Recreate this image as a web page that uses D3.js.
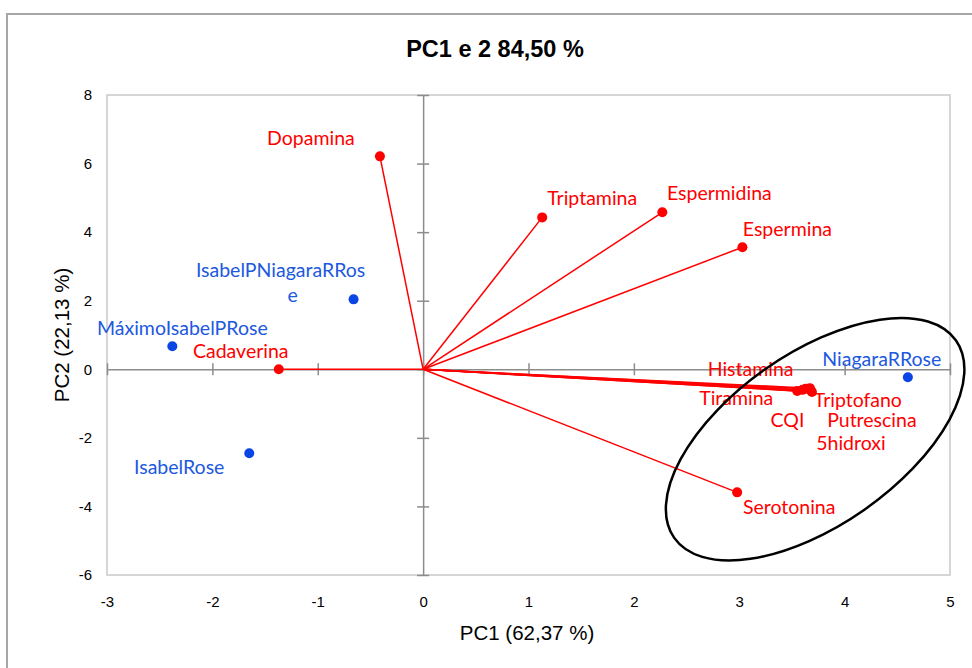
<!DOCTYPE html>
<html>
<head>
<meta charset="utf-8">
<script src="https://cdn.jsdelivr.net/npm/d3@7/dist/d3.min.js"></script>
<style>
  html, body { margin: 0; padding: 0; background: #fff; }
  svg { display: block; }
</style>
</head>
<body>
<svg id="chart" width="972" height="668"></svg>
<script>
// ---- data ----
const title = "PC1 e 2 84,50 %";
const xTitle = "PC1 (62,37 %)";
const yTitle = "PC2 (22,13 %)";
const xTicks = [-3, -2, -1, 0, 1, 2, 3, 4, 5];
const yTicks = [-6, -4, -2, 0, 2, 4, 6, 8];

// variables (loadings), drawn as vectors from origin
const varNames = ["Dopamina", "Triptamina", "Espermidina", "Espermina", "Cadaverina", "Serotonina",
                  "Histamina", "Tiramina", "CQI", "Triptofano", "Putrescina", "5hidroxi"];
const varPC1 = [-0.41, 1.13, 2.27, 3.03, -1.37, 2.98, 3.63, 3.55, 3.60, 3.67, 3.68, 3.69];
const varPC2 = [6.21, 4.43, 4.58, 3.56, 0.00, -3.59, -0.57, -0.63, -0.60, -0.55, -0.62, -0.66];

// observations (scores)
const obsNames = ["IsabelPNiagaraRRose", "MáximoIsabelPRose", "IsabelRose", "NiagaraRRose"];
const obsPC1 = [-0.66, -2.38, -1.65, 4.60];
const obsPC2 = [2.04, 0.67, -2.45, -0.23];

// ---- layout ----
const svg = d3.select("#chart");
const plot = { left: 107, right: 950, top: 95, bottom: 575 };

const x = d3.scaleLinear().domain([-3, 5]).range([plot.left, plot.right]);
const y = d3.scaleLinear().domain([-6, 8]).range([plot.bottom, plot.top]);

const RED = "#ff0000", BLUE = "#0a46e6", BLUE_TXT = "#2058e0";
const labelFont = "Lato, 'Open Sans', sans-serif";
const axisFont = "'Liberation Sans', Arial, sans-serif";
const labelSize = 19.5;

// label offsets (px, relative to each point) – layout only
const varLabelOffset = {
  "Dopamina": [-69, -19], "Triptamina": [50, -20], "Espermidina": [57, -20], "Espermina": [45, -19],
  "Cadaverina": [-38, -19], "Serotonina": [52, 14], "Histamina": [-55, -20], "Tiramina": [-61, 7],
  "CQI": [-15, 30], "Triptofano": [48, 11], "Putrescina": [61, 29], "5hidroxi": [39, 51]
};
const obsLabelOffset = {
  "IsabelPNiagaraRRose": [[-73, -30, "IsabelPNiagaraRRos"], [-61, -5, "e"]],
  "MáximoIsabelPRose": [[10, -19, "MáximoIsabelPRose"]],
  "IsabelRose": [[-70, 13, "IsabelRose"]],
  "NiagaraRRose": [[-26, -19, "NiagaraRRose"]]
};

// outer chart border
svg.append("rect").attr("x", 7).attr("y", 14).attr("width", 1000).attr("height", 700)
  .attr("fill", "none").attr("stroke", "#a6a6a6").attr("stroke-width", 2);

// plot area border
svg.append("rect").attr("x", plot.left).attr("y", plot.top)
  .attr("width", plot.right - plot.left).attr("height", plot.bottom - plot.top)
  .attr("fill", "none").attr("stroke", "#c9c9c9").attr("stroke-width", 1.5);

// zero axes with cross ticks
const axisColor = "#8c8c8c";
const yAxisG = svg.append("g").attr("transform", `translate(${x(0)},0)`);
yAxisG.call(d3.axisLeft(y).tickValues(yTicks).tickSize(0).tickFormat(""));
yAxisG.select(".domain").attr("stroke", axisColor).attr("stroke-width", 1.5);
yAxisG.selectAll(".tick").append("line").attr("x1", -6).attr("x2", 6)
  .attr("stroke", axisColor).attr("stroke-width", 1.5);

const xAxisG = svg.append("g").attr("transform", `translate(0,${y(0)})`);
xAxisG.call(d3.axisBottom(x).tickValues(xTicks).tickSize(0).tickFormat(""));
xAxisG.select(".domain").attr("stroke", axisColor).attr("stroke-width", 1.5);
xAxisG.selectAll(".tick").append("line").attr("y1", -6).attr("y2", 6)
  .attr("stroke", axisColor).attr("stroke-width", 1.5);

// tick labels at plot edges (plain hyphen minus as in reference)
const fmt = d => String(d);
const yLab = svg.append("g").attr("transform", `translate(${plot.left - 15},0)`)
  .call(d3.axisLeft(y).tickValues(yTicks).tickSize(0).tickFormat(fmt));
yLab.select(".domain").remove();
yLab.selectAll("text").attr("font-family", axisFont).attr("font-size", 15).attr("fill", "#000").attr("x", 0);

const xLab = svg.append("g").attr("transform", `translate(0,${plot.bottom + 21})`)
  .call(d3.axisBottom(x).tickValues(xTicks).tickSize(0).tickFormat(fmt));
xLab.select(".domain").remove();
xLab.selectAll("text").attr("font-family", axisFont).attr("font-size", 15).attr("fill", "#000").attr("y", 0).attr("dy", "0.71em");

// titles
svg.append("text").attr("x", 495).attr("y", 57).attr("text-anchor", "middle")
  .attr("font-family", axisFont).attr("font-weight", "bold").attr("font-size", 23.5).text(title);
svg.append("text").attr("x", 527).attr("y", 640).attr("text-anchor", "middle")
  .attr("font-family", axisFont).attr("font-size", 20.5).text(xTitle);
svg.append("text").attr("transform", `translate(69,${(plot.top + plot.bottom) / 2}) rotate(-90)`)
  .attr("text-anchor", "middle").attr("font-family", axisFont).attr("font-size", 20.5).text(yTitle);

// vectors
const vars = varNames.map((n, i) => ({ name: n, pc1: varPC1[i], pc2: varPC2[i] }));
svg.append("g").selectAll("line").data(vars).join("line")
  .attr("x1", x(0)).attr("y1", y(0))
  .attr("x2", d => x(d.pc1)).attr("y2", d => y(d.pc2))
  .attr("stroke", RED).attr("stroke-width", 1.5);
svg.append("g").selectAll("circle").data(vars).join("circle")
  .attr("cx", d => x(d.pc1)).attr("cy", d => y(d.pc2)).attr("r", 5).attr("fill", RED);
svg.append("g").selectAll("text").data(vars).join("text")
  .attr("x", d => x(d.pc1) + varLabelOffset[d.name][0])
  .attr("y", d => y(d.pc2) + varLabelOffset[d.name][1])
  .attr("text-anchor", "middle").attr("dominant-baseline", "central")
  .attr("font-family", labelFont).attr("font-size", labelSize).attr("fill", RED)
  .text(d => d.name);

// observations
const obs = obsNames.map((n, i) => ({ name: n, pc1: obsPC1[i], pc2: obsPC2[i] }));
svg.append("g").selectAll("circle").data(obs).join("circle")
  .attr("cx", d => x(d.pc1)).attr("cy", d => y(d.pc2)).attr("r", 5).attr("fill", BLUE);
obs.forEach(d => {
  obsLabelOffset[d.name].forEach(([dx, dy, t]) => {
    svg.append("text").attr("x", x(d.pc1) + dx).attr("y", y(d.pc2) + dy)
      .attr("text-anchor", "middle").attr("dominant-baseline", "central")
      .attr("font-family", labelFont).attr("font-size", labelSize).attr("fill", BLUE_TXT).text(t);
  });
});

// ellipse annotation
const ell = { cx: 3.72, cy: -2.04 };
svg.append("ellipse")
  .attr("transform", `translate(${x(ell.cx)},${y(ell.cy)}) rotate(-35)`)
  .attr("rx", 172).attr("ry", 86)
  .attr("fill", "none").attr("stroke", "#000").attr("stroke-width", 2.5);
</script>
</body>
</html>
